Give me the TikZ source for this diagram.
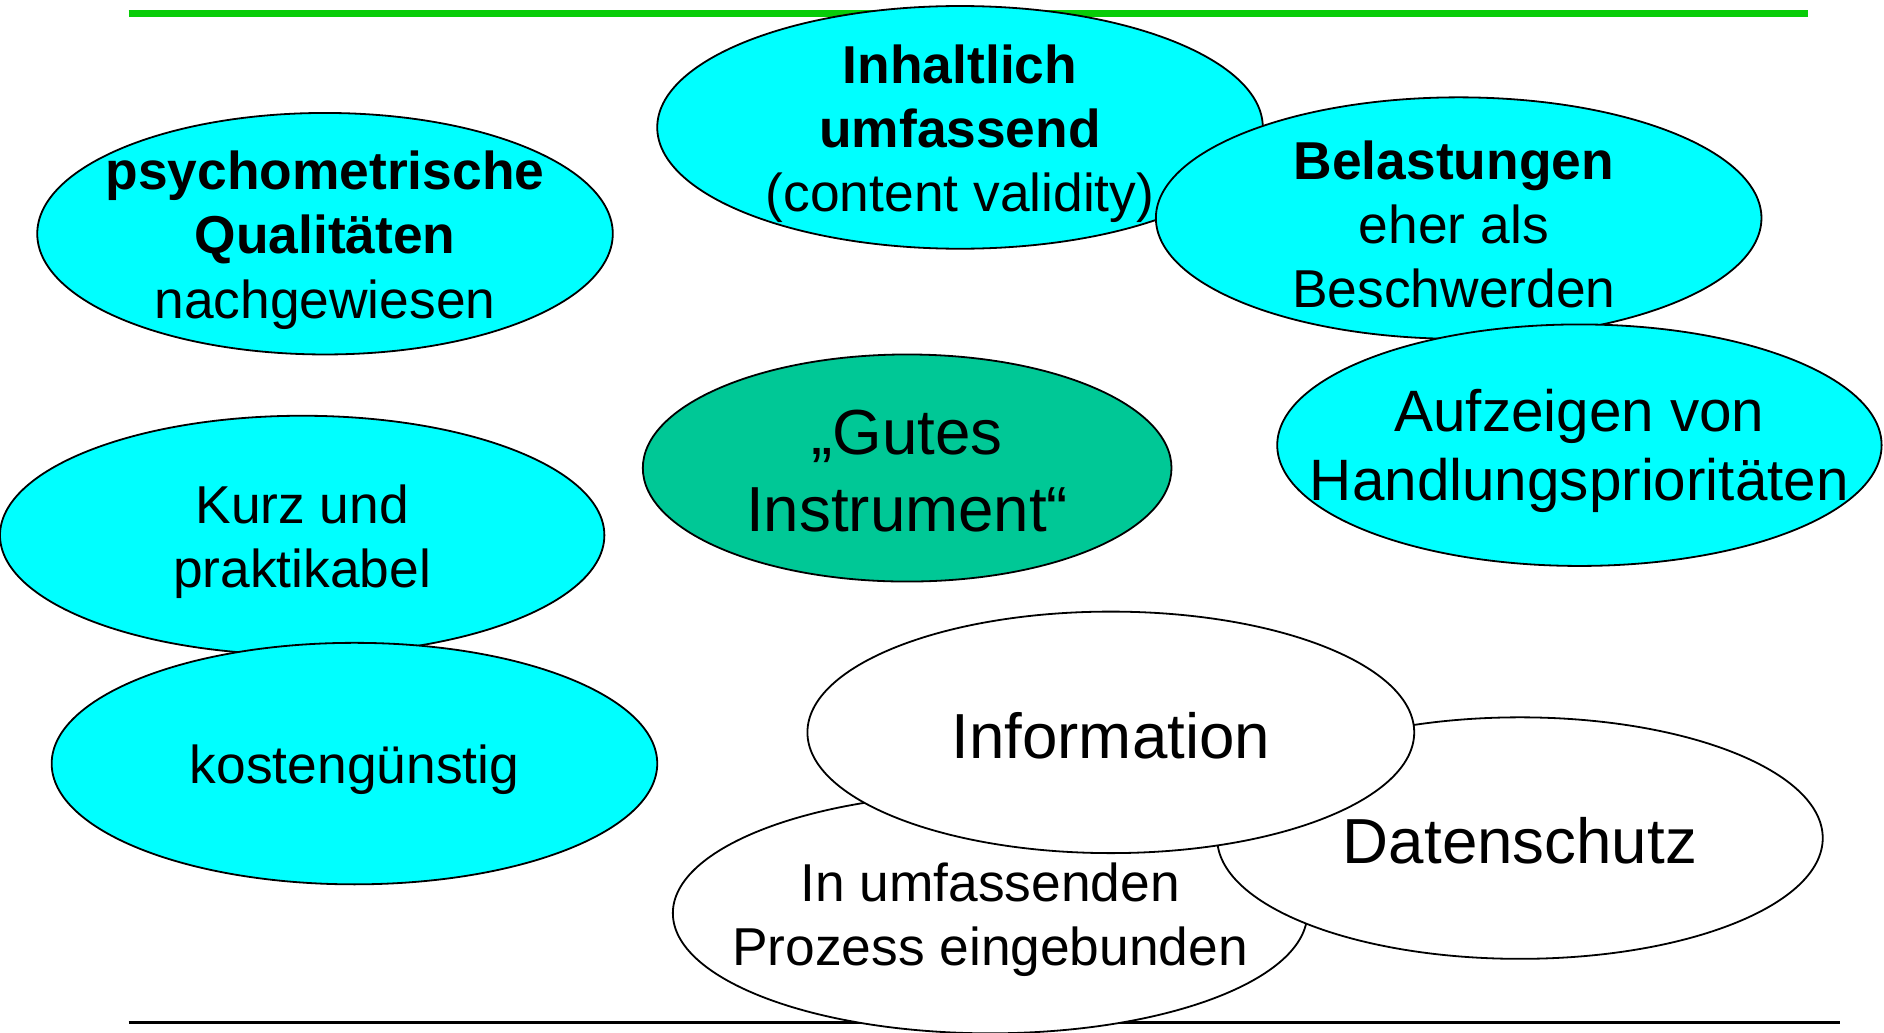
\documentclass[tikz,border=0pt]{standalone}
\usepackage{fontspec}
\setmainfont{Liberation Sans}
\usetikzlibrary{shapes.geometric}
\definecolor{bubcyan}{RGB}{0,255,255}
\definecolor{bubgreen}{RGB}{0,200,150}
\definecolor{rulegreen}{RGB}{8,204,8}
\tikzset{
  bub/.style n args={3}{ellipse, draw=black, line width=0.75pt, fill=#1,
    minimum width=#2, minimum height=#3, inner sep=0pt},
  txtS/.style={align=center, inner sep=0pt, yshift=-2.7pt, font=\fontsize{22.2}{26.75}\selectfont},
  txtM/.style={align=center, inner sep=0pt, yshift=-2.3pt, font=\fontsize{24.3}{28.5}\selectfont},
  txtL/.style={align=center, inner sep=0pt, yshift=-1.3pt, font=\fontsize{26.5}{32}\selectfont},
}
\begin{document}
\begin{tikzpicture}[x=0.5pt,y=-0.5pt]
\useasboundingbox (0,0) rectangle (1568,859);
% top green rule
\coordinate (g1) at (107,11.3);
\coordinate (g2) at (1505,11.3);
\draw[rulegreen, line width=3pt] (g1) -- (g2);

\node[bub={bubcyan}{239.5pt}{100.5pt}] (psy) at (270.5,194.5) {};
\node[txtS] (psyt) at (psy.center) {\textbf{psychometrische}\\\textbf{Qualitäten}\\nachgewiesen};

\node[bub={bubcyan}{252pt}{101pt}] (inh) at (799,106) {};
\node[txtS] (inht) at (inh.center) {\textbf{Inhaltlich}\\\textbf{umfassend}\\(content validity)};

\node[bub={bubcyan}{252pt}{100.5pt}] (bel) at (1214,181.5) {};
\node[txtS] (belt) at (1210,181.5) {\textbf{Belastungen}\\eher als\\Beschwerden};

\node[bub={bubcyan}{251.5pt}{100.5pt}] (auf) at (1314.5,370.5) {};
\node[txtM] (auft) at (auf.center) {Aufzeigen von\\Handlungsprioritäten};

\node[bub={bubgreen}{220pt}{94.5pt}] (gut) at (755,389.5) {};
\node[txtL] (gutt) at (gut.center) {„Gutes\\Instrument“};

\node[bub={bubcyan}{251.5pt}{99.5pt}] (kurz) at (251.5,445.5) {};
\node[txtS] (kurzt) at (kurz.center) {Kurz und\\praktikabel};

\node[bub={bubcyan}{252pt}{100.5pt}] (kost) at (295,635.5) {};
\node[txtS] (kostt) at (kost.center) {kostengünstig};

% bottom rule
\coordinate (b1) at (107,851);
\coordinate (b2) at (1531,851);
\draw[black, line width=1pt] (b1) -- (b2);

\node[bub={white}{264pt}{100pt}] (inu) at (824,760) {};
\node[txtS] (inut) at (inu.center) {In umfassenden\\Prozess eingebunden};

\node[bub={white}{252pt}{100.5pt}] (dat) at (1265,697.5) {};
\node[txtL] (datt) at (dat.center) {Datenschutz};

\node[bub={white}{252.5pt}{100.5pt}] (info) at (924.5,609.5) {};
\node[txtL] (infot) at (info.center) {Information};
\end{tikzpicture}
\end{document}
